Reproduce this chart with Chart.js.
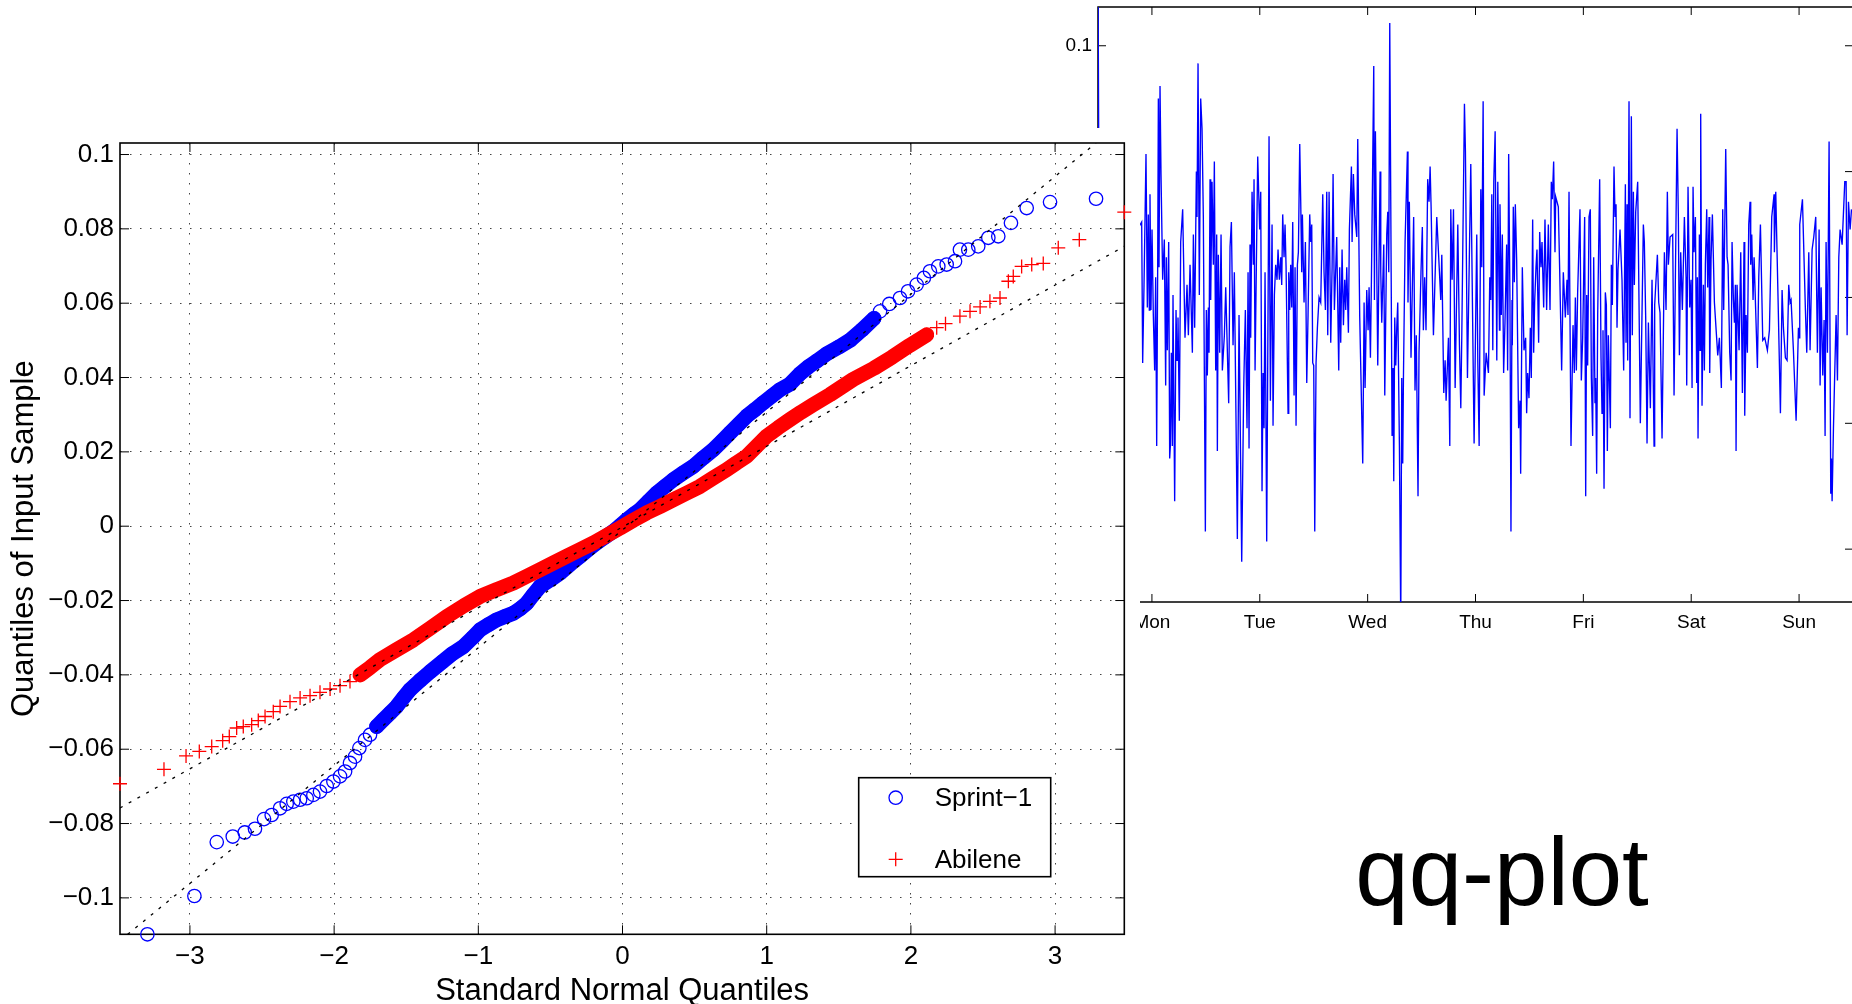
<!DOCTYPE html>
<html>
<head>
<meta charset="utf-8">
<title>qq-plot</title>
<script src="https://cdn.jsdelivr.net/npm/chart.js@4.4.1/dist/chart.umd.min.js"></script>
<style>
  html, body { margin: 0; padding: 0; background: #fff; }
  body { width: 1852px; height: 1004px; overflow: hidden; position: relative; font-family: "Liberation Sans", Arial, Helvetica, sans-serif; }
  #tsBox { position: absolute; left: 0; top: 0; width: 1860px; height: 660px; }
  #qqBox { position: absolute; left: 0; top: 128px; width: 1140px; height: 876px; background: #fff; }
  #tag { position: absolute; left: 1302px; top: 824px; width: 400px; text-align: center; font-size: 96px; line-height: 96px; color: #000; }
</style>
</head>
<body>
<div id="tsBox"><canvas id="serie"></canvas></div>
<div id="qqBox"><canvas id="qq"></canvas></div>
<div id="tag">qq-plot</div>
<script>
// datos qq-plot: cuantiles normales (x) y cuantiles de la muestra (y)
const sprintQ = [-3.295, -2.969, -2.814, -2.703, -2.620, -2.549, -2.486, -2.433, -2.375, -2.329, -2.283, -2.236, -2.190, -2.144, -2.098, -2.051, -2.005, -1.959, -1.924, -1.890, -1.855, -1.825, -1.786, -1.751, -1.705, -1.659, -1.612, -1.566, -1.520, -1.474, -1.404, -1.335, -1.250, -1.180, -1.104, -1.040, -0.988, -0.930, -0.872, -0.815, -0.757, -0.710, -0.664, -0.620, -0.572, -0.500, -0.433, -0.365, -0.295, -0.235, -0.179, -0.120, -0.064, -0.015, 0.029, 0.075, 0.121, 0.180, 0.237, 0.295, 0.352, 0.420, 0.491, 0.560, 0.630, 0.690, 0.745, 0.805, 0.861, 0.920, 0.976, 1.035, 1.092, 1.160, 1.231, 1.293, 1.350, 1.417, 1.500, 1.580, 1.660, 1.744, 1.786, 1.850, 1.924, 1.980, 2.040, 2.090, 2.132, 2.190, 2.248, 2.306, 2.340, 2.398, 2.467, 2.537, 2.606, 2.694, 2.803, 2.965, 3.284];
const sprintVal = [-0.1098, -0.0995, -0.0850, -0.0835, -0.0824, -0.0814, -0.0788, -0.0777, -0.0759, -0.0747, -0.0741, -0.0736, -0.0732, -0.0723, -0.0714, -0.0699, -0.0687, -0.0673, -0.0660, -0.0637, -0.0620, -0.0597, -0.0575, -0.0561, -0.0539, -0.0521, -0.0503, -0.0485, -0.0462, -0.0440, -0.0415, -0.0392, -0.0365, -0.0343, -0.0324, -0.0300, -0.0279, -0.0265, -0.0252, -0.0243, -0.0234, -0.0222, -0.0207, -0.0185, -0.0162, -0.0144, -0.0126, -0.0103, -0.0081, -0.0062, -0.0045, -0.0029, -0.0014, 0.0002, 0.0017, 0.0031, 0.0044, 0.0067, 0.0089, 0.0107, 0.0125, 0.0143, 0.0161, 0.0184, 0.0206, 0.0229, 0.0251, 0.0274, 0.0296, 0.0314, 0.0332, 0.0350, 0.0367, 0.0382, 0.0410, 0.0430, 0.0445, 0.0464, 0.0482, 0.0501, 0.0528, 0.0559, 0.0578, 0.0598, 0.0614, 0.0632, 0.0650, 0.0668, 0.0686, 0.0699, 0.0704, 0.0713, 0.0744, 0.0744, 0.0753, 0.0776, 0.0780, 0.0816, 0.0856, 0.0872, 0.0881];
const abileneQ = [-3.485, -3.180, -3.027, -2.935, -2.849, -2.773, -2.727, -2.676, -2.630, -2.572, -2.526, -2.479, -2.422, -2.375, -2.306, -2.236, -2.167, -2.098, -2.028, -1.959, -1.890, -1.820, -1.750, -1.682, -1.570, -1.451, -1.335, -1.219, -1.100, -0.988, -0.870, -0.757, -0.665, -0.572, -0.480, -0.387, -0.295, -0.202, -0.110, -0.017, 0.075, 0.168, 0.260, 0.352, 0.445, 0.537, 0.630, 0.723, 0.790, 0.861, 0.930, 0.999, 1.080, 1.162, 1.240, 1.323, 1.439, 1.600, 1.744, 1.870, 1.990, 2.110, 2.179, 2.240, 2.340, 2.410, 2.480, 2.548, 2.618, 2.676, 2.710, 2.768, 2.838, 2.918, 3.022, 3.168, 3.480];
const abileneVal = [-0.0693, -0.0654, -0.0618, -0.0606, -0.0593, -0.0577, -0.0566, -0.0543, -0.0539, -0.0534, -0.0523, -0.0512, -0.0499, -0.0485, -0.0472, -0.0462, -0.0456, -0.0447, -0.0438, -0.0429, -0.0418, -0.0400, -0.0380, -0.0359, -0.0333, -0.0306, -0.0275, -0.0243, -0.0214, -0.0189, -0.0170, -0.0153, -0.0135, -0.0117, -0.0099, -0.0081, -0.0063, -0.0045, -0.0025, -0.0005, 0.0016, 0.0036, 0.0053, 0.0071, 0.0089, 0.0107, 0.0130, 0.0152, 0.0170, 0.0188, 0.0215, 0.0242, 0.0265, 0.0287, 0.0307, 0.0327, 0.0354, 0.0395, 0.0425, 0.0455, 0.0486, 0.0515, 0.0534, 0.0545, 0.0565, 0.0578, 0.0590, 0.0605, 0.0614, 0.0659, 0.0672, 0.0699, 0.0704, 0.0707, 0.0749, 0.0771, 0.0845];
// rectas de referencia (por los cuartiles)
const sprintRefQ = [-3.432, 3.284];
const sprintRefVal = [-0.1098, 0.1031];
const abileneRefQ = [-3.485, 3.48];
const abileneRefVal = [-0.0758, 0.0753];
const qqXTicks = [-3, -2, -1, 0, 1, 2, 3];
const qqYTicks = [-0.1, -0.08, -0.06, -0.04, -0.02, 0, 0.02, 0.04, 0.06, 0.08, 0.1];

// serie temporal: horas desde el lunes 0h y valor
const tsHours = [0, 0.3, 9.72, 9.94, 10.24, 10.68, 10.98, 11.20, 11.42, 11.57, 11.79, 12.02, 12.31, 12.61, 12.83, 13.06, 13.28, 13.43, 13.58, 13.80, 14.02, 14.39, 14.76, 15.06, 15.21, 15.43, 15.73, 15.95, 16.10, 16.32, 16.54, 16.69, 17.06, 17.36, 17.58, 17.80, 18.10, 18.40, 18.84, 19.36, 19.81, 20.11, 20.48, 21.00, 21.22, 21.51, 21.89, 22.03, 22.26, 22.55, 22.85, 23.15, 23.44, 23.89, 24.11, 24.33, 24.56, 24.71, 24.93, 25.08, 25.37, 25.67, 25.89, 26.19, 26.41, 26.56, 26.78, 27.08, 27.38, 27.67, 28.12, 28.42, 29.08, 29.38, 29.68, 30.05, 30.34, 31.01, 31.38, 31.98, 32.42, 32.79, 33.16, 33.39, 33.61, 33.83, 33.98, 34.28, 34.57, 34.72, 34.95, 35.54, 35.98, 36.21, 36.50, 36.73, 36.95, 37.17, 37.54, 38.06, 38.36, 38.73, 38.95, 39.25, 39.54, 39.84, 40.06, 40.36, 40.66, 40.88, 41.10, 41.40, 41.62, 41.85, 42.29, 42.44, 42.66, 42.88, 43.11, 43.33, 43.63, 43.85, 44.07, 44.37, 44.59, 44.89, 45.11, 45.33, 45.48, 45.85, 46.15, 46.45, 46.74, 47.11, 47.34, 47.56, 47.78, 48.00, 48.23, 48.52, 48.82, 49.19, 49.56, 50.01, 50.30, 50.60, 50.90, 51.12, 51.42, 51.79, 52.09, 52.31, 52.60, 53.12, 53.57, 53.79, 54.01, 54.31, 54.61, 54.90, 55.13, 55.35, 55.72, 55.94, 56.39, 56.54, 56.83, 57.13, 57.58, 57.80, 58.24, 58.91, 59.21, 59.43, 59.80, 60.10, 60.32, 60.62, 60.84, 61.36, 61.51, 61.73, 62.25, 62.77, 62.92, 63.14, 63.59, 63.81, 64.25, 64.48, 64.70, 64.92, 65.44, 65.66, 65.81, 66.03, 66.26, 66.48, 66.70, 67.07, 67.37, 67.59, 67.81, 67.96, 68.33, 68.85, 68.98, 69.28, 69.65, 70.24, 70.54, 70.83, 71.21, 71.43, 71.87, 72.17, 72.40, 72.69, 72.99, 73.36, 73.66, 73.90, 74.12, 74.64, 75.38, 75.98, 76.27, 76.50, 76.94, 77.24, 77.46, 77.98, 78.28, 78.50, 78.80, 79.10, 79.47, 80.06, 80.43, 80.73, 80.95, 81.54, 81.76, 82.21, 82.95, 83.69, 84.28, 84.51, 84.81, 85.18, 85.40, 85.70, 85.92, 86.37, 86.88, 87.18, 87.40, 87.63, 87.85, 88.07, 88.37, 88.74, 88.96, 89.33,
  89.45, 89.74, 89.97, 90.26, 90.56, 90.93, 91.15, 91.38, 91.67, 91.89, 92.12, 92.19, 92.41, 92.64, 92.86, 93.16, 93.60, 93.90, 94.05, 94.42, 94.79, 95.16, 95.38, 95.60, 95.90, 96.20, 96.42, 96.72, 96.94, 97.16, 97.46, 97.68, 98.05, 98.28, 98.57, 98.80, 99.17, 99.46, 99.83, 100.21, 100.58, 100.87, 101.10, 101.39, 101.69, 101.84, 102.43, 102.73, 103.17, 103.54, 103.99, 104.36, 104.58, 104.81, 105.25, 105.70, 105.99, 106.22, 106.44, 106.73, 107.25, 107.55, 107.85, 108.29, 108.52, 108.74, 108.96, 109.26, 109.55, 109.78, 110.07, 110.30, 110.59, 110.74, 110.96, 111.19, 111.63, 111.93, 112.15, 112.37, 112.60, 112.89, 113.12, 113.34, 113.56, 114.01, 114.23, 114.45, 114.82, 115.05, 115.27, 115.49, 115.71, 116.16, 116.60, 116.97, 117.35, 117.49, 117.72, 117.86, 118.16, 118.38, 118.68, 118.90, 119.13, 119.35, 119.65, 120.09, 120.68, 121.35, 121.57, 121.87, 122.17, 122.47, 122.91, 123.28, 123.73, 123.87, 124.47, 124.77, 125.06, 125.51, 126.03, 126.40, 126.69, 126.92, 127.29, 127.88, 128.18, 128.85, 129.14, 129.37, 129.66, 130.03, 130.48, 130.85, 131.00, 131.29, 131.67, 131.96, 132.19, 132.41, 132.63, 132.93, 133.22, 133.37, 133.52, 133.82, 133.97, 134.11, 134.41, 134.71, 134.93, 135.15, 135.45, 135.67, 135.97, 136.12, 136.41, 136.71, 137.16, 137.90, 138.27, 138.71, 139.01, 139.23, 139.68, 139.98, 140.20, 140.57, 140.87, 141.09, 141.39, 141.61, 141.83, 141.98, 142.20, 142.65, 143.02, 143.39, 143.76, 143.91, 144.21, 144.50, 144.80, 145.10, 145.24, 145.47, 145.76, 145.99, 146.73, 147.03, 147.40, 147.92, 148.36, 148.95, 149.40, 149.92, 150.44, 150.51, 150.81, 151.33, 151.85, 152.22, 152.52, 152.96, 153.33, 153.70, 154.00, 154.22, 154.74, 155.34, 155.86, 156.00, 156.15, 156.75, 157.41, 157.71, 158.16, 158.45, 158.90, 159.27, 159.71, 160.08, 160.46, 160.68, 160.90, 161.27, 161.57, 161.79, 162.01, 162.31, 162.68, 163.05, 163.20, 163.35, 163.65, 164.24, 164.54, 164.84, 165.13, 165.58, 166.17, 166.47, 166.69, 166.99, 167.36, 167.66];
const tsValues = [0.13, 0, 0.030, -0.026, 0.005, 0.057, -0.004, 0.033, -0.005, 0.041, -0.005, 0.027, -0.007, -0.029, 0.008, -0.059, 0.012, 0.079, 0.012, 0.084, 0.049, 0.007, 0.023, -0.035, 0.016, -0.021, 0.022, -0.064, -0.059, -0.022, -0.059, 0.001, -0.081, -0.005, -0.025, -0.008, -0.049, 0.022, 0.035, -0.016, 0.005, -0.015, 0.013, -0.022, 0.025, -0.012, 0.050, 0.032, 0.093, 0.001, 0.079, 0.067, 0.032, -0.093, -0.005, -0.031, -0.004, -0.022, 0.047, -0.001, 0.046, 0.013, 0.054, -0.029, 0.025, -0.061, 0.017, -0.022, 0.025, -0.029, -0.015, 0.004, -0.042, 0.020, 0.030, -0.019, 0.010, -0.096, -0.007, -0.105, -0.036, -0.005, -0.052, 0.010, -0.060, 0.021, -0.016, 0.042, 0.013, 0.047, -0.029, 0.056, 0.027, 0.042, -0.077, -0.030, -0.052, 0.010, -0.097, 0.064, -0.041, 0.029, -0.051, 0.001, 0.013, 0.007, 0.019, 0.007, 0.016, 0.005, 0.033, 0.016, 0.029, 0.012, -0.046, 0.010, -0.005, 0.013, -0.004, 0.030, -0.039, 0.012, -0.051, 0.013, 0.018, 0.061, 0.038, 0.010, 0.033, -0.002, 0.022, -0.034, -0.007, 0.033, 0.022, 0.029, -0.026, -0.027, -0.093, -0.026, -0.012, 0, -0.002, 0.041, 0.010, -0.005, 0.042, -0.015, 0.042, -0.018, 0.012, 0.049, -0.005, 0.024, -0.029, 0.012, -0.018, 0.019, -0.011, 0.007, -0.005, 0.012, -0.014, 0.027, 0.052, 0.022, 0.049, 0.033, 0.024, 0.063, -0.008, -0.066, -0.002, -0.036, 0.003, -0.013, 0.004, -0.024, 0.007, 0.092, -0.001, 0.066, -0.027, 0.050, 0.010, -0.010, 0.021, -0.039, 0.025, 0.034, 0.010, 0.109, -0.055, -0.028, -0.073, -0.008, -0.027, -0.012, -0.002, -0.059, -0.13, -0.032, -0.066, -0.033, 0.022, 0.058, -0.002, 0.038, -0.024, 0.032, -0.037, -0.015, -0.079, -0.022, 0.010, 0.028, -0.013, 0.008, -0.013, 0.047, 0.038, 0.052, 0.036, -0.015, 0.032, 0.010, -0.001, 0.017, -0.038, -0.025, -0.041, -0.016, -0.059, 0.035, 0.007, 0.035, -0.036, 0.029, -0.019, -0.044, -0.015, 0.077, 0.058, -0.032, 0.053, -0.058, 0.025, -0.025, -0.059, 0.043, 0.012, 0.078, -0.039, -0.022, -0.030, 0.008, -0.001, 0.041, -0.021, 0.046, 0.066, -0.025, 0.046, -0.013,
  0.037, -0.007, 0.025, -0.030, -0.010, 0.021, -0.029, 0.057, -0.002, -0.093, -0.001, -0.019, 0.036, 0.006, 0.037, 0.015, -0.052, -0.041, -0.070, 0.012, -0.021, -0.016, -0.046, -0.030, -0.040, -0.012, -0.032, 0.031, -0.022, -0.002, 0.012, 0.019, -0.018, 0.026, 0.012, 0.022, -0.004, 0.031, -0.005, 0.029, -0.005, 0.046, 0.039, 0.054, 0.018, 0.040, 0.036, 0.011, -0.029, 0.010, -0.008, 0.007, -0.007, 0.042, -0.059, -0.011, -0.030, 0, -0.029, 0.002, 0.035, -0.033, -0.016, 0.032, -0.079, 0.001, -0.027, 0.032, 0.035, -0.032, -0.055, 0.016, -0.042, -0.032, -0.070, -0.007, 0.047, -0.024, -0.046, -0.013, -0.076, 0.002, -0.003, -0.061, -0.015, -0.052, 0.013, -0.003, 0.052, 0.032, 0.037, -0.012, 0.011, 0.027, 0.007, -0.029, 0.045, -0.018, 0.037, -0.025, 0.078, -0.048, 0.072, -0.015, 0.042, 0.005, 0.034, 0.046, -0.050, 0.029, 0.022, -0.008, -0.058, -0.010, -0.044, 0.007, -0.059, -0.003, 0.017, -0.002, -0.006, -0.056, 0.018, -0.005, 0.042, 0.013, 0.024, 0.025, -0.039, 0.067, 0.032, -0.023, 0.018, -0.005, 0.032, 0.008, -0.035, 0.044, -0.004, 0.007, -0.036, 0.044, 0.018, 0.032, -0.034, 0.008, -0.056, 0.025, -0.021, 0.073, -0.043, 0.005, -0.029, 0.013, 0.035, 0.004, 0.032, -0.030, 0.015, 0.033, -0.002, -0.023, -0.016, -0.036, 0.035, -0.005, 0.059, 0.016, 0.013, -0.022, -0.033, 0.022, -0.001, -0.010, 0.005, -0.061, 0.005, -0.021, 0.018, -0.038, 0.022, -0.047, -0.007, -0.022, 0.029, 0.038, 0.013, 0.025, -0.001, 0.016, -0.028, 0.008, 0.029, -0.017, -0.016, -0.021, -0.013, 0.032, 0.041, 0.018, 0.042, -0.001, -0.046, 0.003, -0.012, -0.024, -0.025, 0.005, -0.002, -0.001, -0.021, -0.049, -0.012, -0.016, 0.029, 0.039, -0.005, -0.022, 0.018, -0.021, 0.019, 0.024, 0.032, -0.022, 0.027, -0.035, 0.004, -0.031, -0.009, -0.055, 0.022, -0.022, 0.062, -0.078, -0.064, -0.081, -0.052, -0.007, -0.033, 0.016, 0.027, 0.021, 0.046, 0.046, -0.015, 0.038, 0.027, 0.035];
const dayNames = ['Mon', 'Tue', 'Wed', 'Thu', 'Fri', 'Sat', 'Sun'];
const dayHours = [12, 36, 60, 84, 108, 132, 156];
const tsYTicks = [-0.1, -0.05, 0, 0.05, 0.1];

const FUENTE = '"Liberation Sans", Arial, Helvetica, sans-serif';
Chart.defaults.font.family = FUENTE;
Chart.defaults.color = '#000';

function pares(xs, ys) {
    return xs.map(function (x, i) { return { x: x, y: ys[i] }; });
}
// signo menos tipografico como en matlab
function etiqueta(v) {
    return String(Math.round(v * 1000) / 1000).replace('-', '\u2212');
}
function fijarTicks(valores) {
    return function (scale) {
        scale.ticks = valores.map(function (v) { return { value: v }; });
    };
}
// sin margen extra por media etiqueta en los extremos
function sinMargen(ancho, alto) {
    return function (s) {
        if (ancho) s.width = ancho;
        if (alto) s.height = alto;
        s.paddingTop = 0; s.paddingBottom = 0;
        s.paddingLeft = 0; s.paddingRight = 0;
    };
}

// caja + marcas hacia dentro en los 4 lados
const ejesMatlab = {
    id: 'ejesMatlab',
    beforeDatasetsDraw(chart, args, opts) {
        const ctx = chart.ctx, a = chart.chartArea;
        const x = chart.scales.x, y = chart.scales.y;
        ctx.save();
        ctx.strokeStyle = '#000';
        ctx.lineWidth = 1;
        ctx.beginPath();
        x.ticks.forEach(function (t) {
            const p = x.getPixelForValue(t.value);
            ctx.moveTo(p, a.bottom); ctx.lineTo(p, a.bottom - opts.largo);
            ctx.moveTo(p, a.top); ctx.lineTo(p, a.top + opts.largo);
        });
        y.ticks.forEach(function (t) {
            const p = y.getPixelForValue(t.value);
            ctx.moveTo(a.left, p); ctx.lineTo(a.left + opts.largo, p);
            ctx.moveTo(a.right, p); ctx.lineTo(a.right - opts.largo, p);
        });
        ctx.stroke();
        ctx.lineWidth = opts.ancho;
        ctx.strokeRect(a.left, a.top, a.right - a.left, a.bottom - a.top);
        ctx.restore();
    }
};

// leyenda dentro del area (abajo a la derecha)
const leyenda = {
    id: 'leyenda',
    afterDraw(chart) {
        const ctx = chart.ctx, a = chart.chartArea;
        const w = 192, h = 99;
        const bx = a.right - 73.6 - w, by = a.bottom - 57.6 - h;
        ctx.save();
        ctx.fillStyle = '#fff';
        ctx.fillRect(bx, by, w, h);
        ctx.strokeStyle = '#000';
        ctx.lineWidth = 1.6;
        ctx.strokeRect(bx, by, w, h);
        const items = chart.data.datasets.filter(function (d) { return d.enLeyenda; })
            .sort(function (p, q) { return p.enLeyenda - q.enLeyenda; });
        items.forEach(function (d, i) {
            const cy = by + 20 + i * 61.6, cx = bx + 37;
            ctx.strokeStyle = d.borderColor;
            ctx.lineWidth = d.borderWidth;
            ctx.beginPath();
            if (d.pointStyle === 'cross') {
                ctx.moveTo(cx - d.pointRadius, cy); ctx.lineTo(cx + d.pointRadius, cy);
                ctx.moveTo(cx, cy - d.pointRadius); ctx.lineTo(cx, cy + d.pointRadius);
            } else {
                ctx.arc(cx, cy, d.pointRadius, 0, Math.PI * 2);
            }
            ctx.stroke();
            ctx.fillStyle = '#000';
            ctx.font = '26px ' + FUENTE;
            ctx.textBaseline = 'middle';
            ctx.fillText(d.label, bx + 76, cy + 1.5);
        });
        ctx.restore();
    }
};

// QQ PLOT
const sprintPts = pares(sprintQ, sprintVal);
const abilenePts = pares(abileneQ, abileneVal);
// zona densa: los marcadores se solapan y forman una banda continua
const sprintDensa = sprintPts.filter(function (p) { return p.x >= -1.75 && p.x <= 1.75; });
const abileneDensa = abilenePts.filter(function (p) { return p.x >= -1.85 && p.x <= 2.12; });

new Chart(document.getElementById('qq'), {
    type: 'scatter',
    data: {
        datasets: [
            { label: 'ref Sprint', data: pares(sprintRefQ, sprintRefVal), showLine: true, pointRadius: 0, borderColor: '#000', borderWidth: 1.3, borderDash: [3, 7], order: 0 },
            { label: 'ref Abilene', data: pares(abileneRefQ, abileneRefVal), showLine: true, pointRadius: 0, borderColor: '#000', borderWidth: 1.3, borderDash: [3, 7], order: 0 },
            { label: 'Abilene', enLeyenda: 2, data: abilenePts, pointStyle: 'cross', pointRadius: 7, borderColor: '#ff0000', backgroundColor: '#ff0000', borderWidth: 1.3, clip: false, order: 1 },
            { label: 'Abilene banda', data: abileneDensa, showLine: true, pointRadius: 0, borderColor: '#ff0000', borderWidth: 15, borderCapStyle: 'round', borderJoinStyle: 'round', order: 2 },
            { label: 'Sprint\u22121', enLeyenda: 1, data: sprintPts, pointStyle: 'circle', pointRadius: 6.7, borderColor: '#0000ff', backgroundColor: 'rgba(0,0,0,0)', borderWidth: 1.3, clip: false, order: 3 },
            { label: 'Sprint banda', data: sprintDensa, showLine: true, pointRadius: 0, borderColor: '#0000ff', borderWidth: 15, borderCapStyle: 'round', borderJoinStyle: 'round', order: 4 }
        ]
    },
    options: {
        responsive: true,
        maintainAspectRatio: false,
        animation: false,
        events: [],
        layout: { padding: { top: 15, right: 15.7, left: 0, bottom: 0 } },
        plugins: {
            legend: { display: false },
            tooltip: { enabled: false },
            ejesMatlab: { largo: 9, ancho: 1.6 }
        },
        scales: {
            x: {
                type: 'linear',
                min: -3.485,
                max: 3.48,
                afterBuildTicks: fijarTicks(qqXTicks),
                afterFit: sinMargen(0, 69.7),
                ticks: { font: { size: 26 }, color: '#000', padding: 7, maxRotation: 0, autoSkip: false, callback: etiqueta },
                grid: { color: '#444', lineWidth: 1, drawTicks: false },
                border: { display: false, dash: [1.5, 8.5] },
                title: { display: true, text: 'Standard Normal Quantiles', color: '#000', font: { size: 31, lineHeight: 0.8 }, padding: { top: 0, bottom: 0 } }
            },
            y: {
                type: 'linear',
                min: -0.1098,
                max: 0.1031,
                afterBuildTicks: fijarTicks(qqYTicks),
                afterFit: sinMargen(120, 0),
                ticks: { font: { size: 26 }, color: '#000', padding: 6, autoSkip: false, callback: etiqueta },
                grid: { color: '#444', lineWidth: 1, drawTicks: false },
                border: { display: false, dash: [1.5, 8.5] },
                title: { display: true, text: 'Quantiles of Input Sample', color: '#000', font: { size: 31, lineHeight: 1 }, padding: { top: 9, bottom: 0 } }
            }
        }
    },
    plugins: [ejesMatlab, leyenda]
});

// SERIE SEMANAL
new Chart(document.getElementById('serie'), {
    type: 'line',
    data: {
        datasets: [{
            label: 'traza',
            data: pares(tsHours, tsValues),
            borderColor: '#0000ff',
            borderWidth: 1.35,
            pointRadius: 0,
            tension: 0,
            fill: false
        }]
    },
    options: {
        responsive: true,
        maintainAspectRatio: false,
        animation: false,
        events: [],
        layout: { padding: { top: 7, right: 7, left: 0, bottom: 0 } },
        plugins: {
            legend: { display: false },
            tooltip: { enabled: false },
            ejesMatlab: { largo: 8, ancho: 1.5 }
        },
        scales: {
            x: {
                type: 'linear',
                min: 0,
                max: 168,
                afterBuildTicks: fijarTicks(dayHours),
                afterFit: sinMargen(0, 58),
                ticks: { font: { size: 19 }, color: '#000', padding: 9, maxRotation: 0, autoSkip: false,
                    callback: function (v, i) { return dayNames[i]; } },
                grid: { display: false, drawTicks: false },
                border: { display: false }
            },
            y: {
                type: 'linear',
                min: -0.121,
                max: 0.1154,
                afterBuildTicks: fijarTicks(tsYTicks),
                afterFit: sinMargen(1098, 0),
                ticks: { font: { size: 19 }, color: '#000', padding: 6, autoSkip: false, callback: etiqueta },
                grid: { display: false, drawTicks: false },
                border: { display: false }
            }
        }
    },
    plugins: [ejesMatlab]
});
</script>
</body>
</html>
